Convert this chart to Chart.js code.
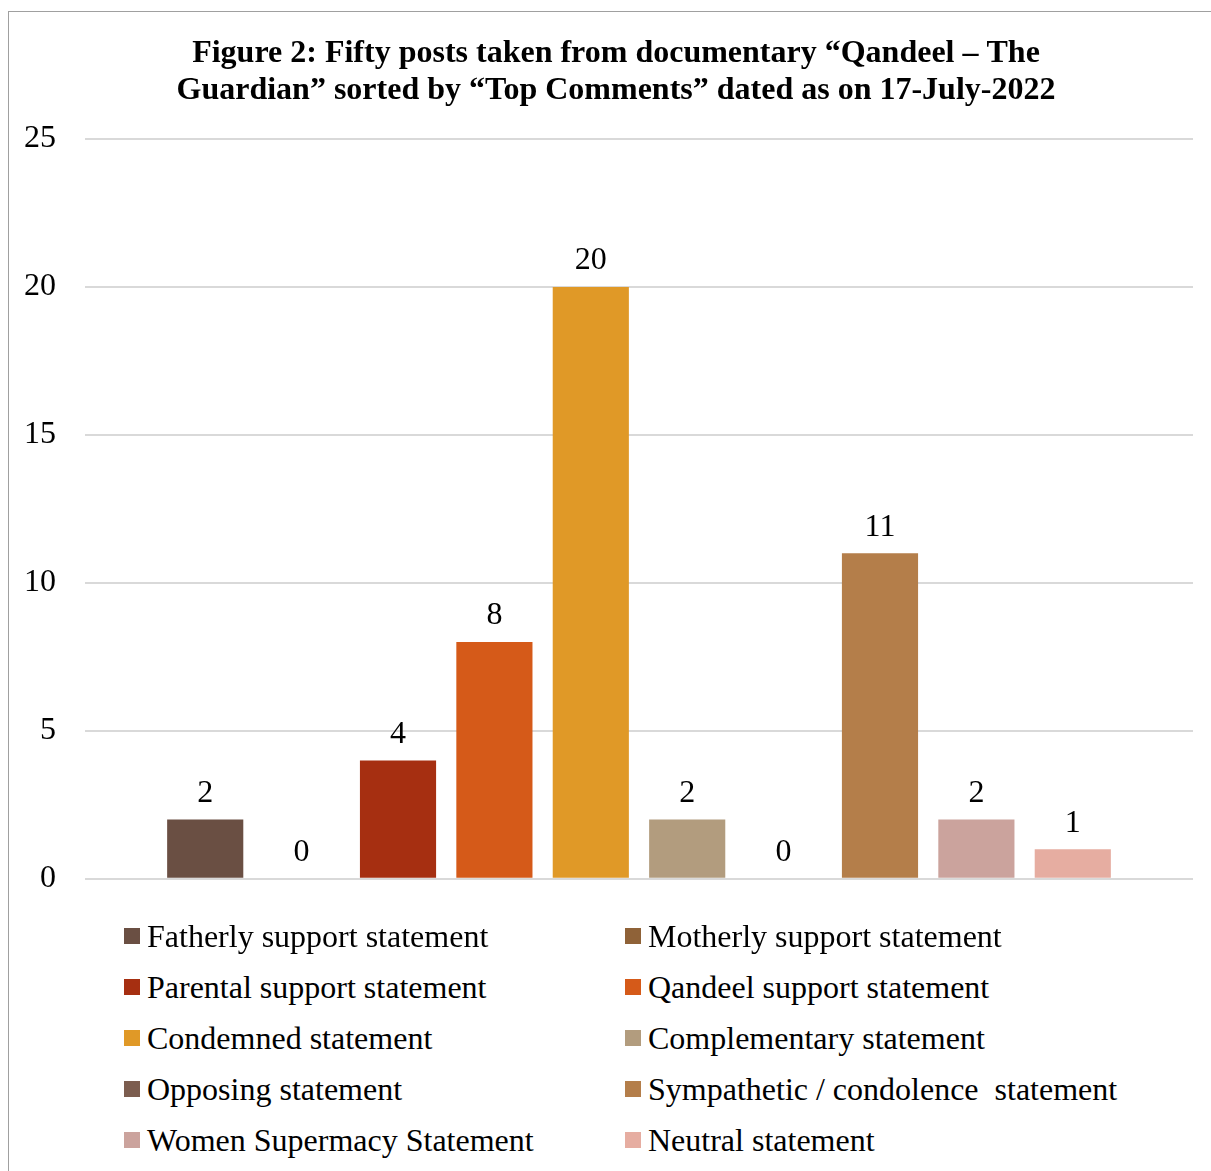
<!DOCTYPE html>
<html>
<head>
<meta charset="utf-8">
<script src="https://cdn.jsdelivr.net/npm/chart.js@4"></script>
<style>
  html, body { margin: 0; padding: 0; background: #fff; }
  body { width: 1211px; height: 1171px; position: relative; overflow: hidden; font-family: 'Liberation Serif', 'Times New Roman', serif; }
  .frame { position: absolute; left: 8px; top: 11px; width: 1400px; height: 1400px; border: 1px solid #a0a0a0; box-sizing: border-box; }
  .wrap { position: absolute; left: 0; top: 0; width: 1250px; height: 927px; }
  .legend { position: absolute; left: 0; top: 0; }
  .legend-item { position: absolute; height: 34px; line-height: 34px; font-size: 32px; color: #000; white-space: pre; }
  .legend-item span.box { position: absolute; left: 0; top: 9px; width: 16px; height: 16px; }
  .legend-item span.txt { position: absolute; left: 23px; top: 0; }
</style>
</head>
<body>
<div class="frame"></div>
<div class="wrap"><canvas id="chart"></canvas></div>
<div class="legend" id="legend"></div>
<script>
const titleLines = ['Figure 2: Fifty posts taken from documentary \u201cQandeel \u2013 The', 'Guardian\u201d sorted by \u201cTop Comments\u201d dated as on 17-July-2022'];
const categories = [
  'Fatherly support statement',
  'Motherly support statement',
  'Parental support statement',
  'Qandeel support statement',
  'Condemned statement',
  'Complementary statement',
  'Opposing statement',
  'Sympathetic / condolence  statement',
  'Women Supermacy Statement',
  'Neutral statement'
];
const counts = [2, 0, 4, 8, 20, 2, 0, 11, 2, 1];
const colors = ['#6a4f43', '#8f6238', '#a62f11', '#d55a19', '#e09927', '#b29c7e', '#7c5d4f', '#b47e4a', '#cba39d', '#e6ada1'];
const yTicks = [0, 5, 10, 15, 20, 25];

const FONT = "'Liberation Serif', 'Times New Roman', serif";

const valueLabels = {
  id: 'valueLabels',
  afterDatasetsDraw(chart) {
    const ctx = chart.ctx;
    ctx.save();
    ctx.font = '32px ' + FONT;
    ctx.fillStyle = '#000';
    ctx.textAlign = 'center';
    ctx.textBaseline = 'bottom';
    chart.data.datasets.forEach((ds, i) => {
      const meta = chart.getDatasetMeta(i);
      meta.data.forEach((bar, j) => {
        ctx.fillText(String(ds.data[j]), bar.x, bar.y - 10);
      });
    });
    ctx.restore();
  }
};

const chart = new Chart(document.getElementById('chart'), {
  type: 'bar',
  data: {
    labels: [''],
    datasets: categories.map((name, i) => ({
      label: name,
      data: [counts[i]],
      backgroundColor: colors[i],
      borderWidth: 0
    }))
  },
  options: {
    responsive: true,
    maintainAspectRatio: false,
    animation: false,
    categoryPercentage: 0.87,
    barPercentage: 0.79,
    layout: { padding: { left: 20, right: 38, top: 22, bottom: 21 } },
    plugins: {
      legend: { display: false },
      tooltip: { enabled: false },
      title: {
        display: true,
        text: titleLines,
        color: '#000',
        font: { family: FONT, size: 32, weight: 'bold', lineHeight: 1.156 },
        padding: { top: 13, bottom: 30 }
      }
    },
    scales: {
      x: { display: false },
      y: {
        min: 0,
        max: 25,
        afterBuildTicks(scale) { scale.ticks = yTicks.map(v => ({ value: v })); },
        afterFit(scale) { scale.width = 65; },
        border: { display: false },
        grid: { color: '#d9d9d9', lineWidth: 2, drawTicks: false },
        ticks: {
          color: '#000',
          padding: 29,
          font: { family: FONT, size: 32 }
        }
      },
      // empty right-hand spacer so the title sits where it does in the figure
      spacer: {
        type: 'linear',
        position: 'right',
        min: 0,
        max: 25,
        afterFit(scale) { scale.width = 19; },
        border: { display: false },
        grid: { display: false },
        ticks: { display: false }
      }
    }
  },
  plugins: [valueLabels]
});

// two-column legend below the plot
const legend = document.getElementById('legend');
categories.forEach((name, i) => {
  const col = i % 2, row = Math.floor(i / 2);
  const item = document.createElement('div');
  item.className = 'legend-item';
  item.style.left = (col === 0 ? 124 : 625) + 'px';
  item.style.top = (919 + row * 51) + 'px';
  const box = document.createElement('span');
  box.className = 'box';
  box.style.background = colors[i];
  const txt = document.createElement('span');
  txt.className = 'txt';
  txt.textContent = name;
  item.appendChild(box);
  item.appendChild(txt);
  legend.appendChild(item);
});
</script>
</body>
</html>
